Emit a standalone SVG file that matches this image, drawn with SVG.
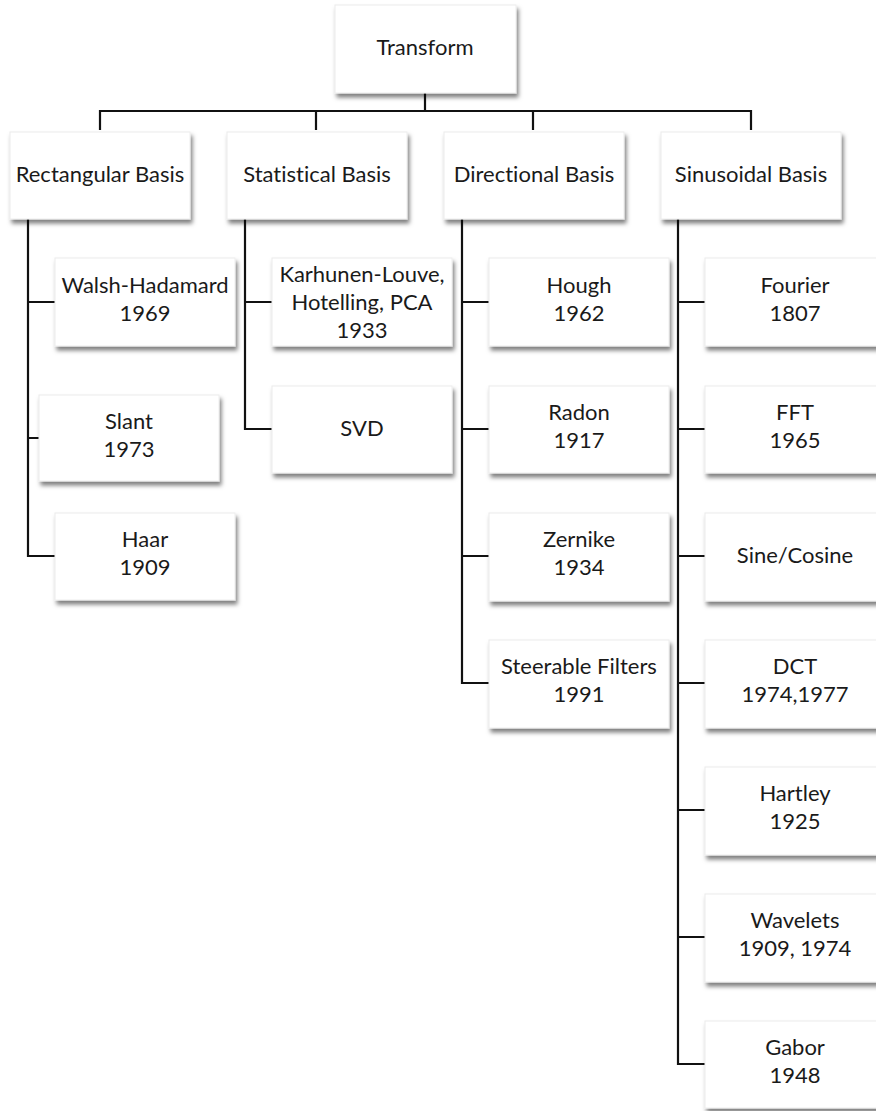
<svg xmlns="http://www.w3.org/2000/svg" width="876" height="1111" viewBox="0 0 876 1111">
<style>
.box{fill:#fff;stroke:#ececec;stroke-width:1;filter:url(#sh)}
.t{font-family:Lato,"Open Sans",sans-serif;font-size:22px;fill:#1a1a1a;text-anchor:middle;font-variant-ligatures:none;font-feature-settings:"liga" 0}
.c{fill:none;stroke:#111;stroke-width:2.2;stroke-linejoin:miter}
</style>
<defs>
<filter id="sh" x="-10%" y="-10%" width="125%" height="135%">
<feDropShadow dx="2" dy="4" stdDeviation="2.2" flood-color="#000" flood-opacity="0.5"/>
</filter>
</defs>
<g id="connectors">
<path class="c" d="M425 93V111M100 130V111H751V130M316 111V130M533 111V130"/>
<path class="c" d="M28 219V556H55M28 302H55M28 438H39"/>
<path class="c" d="M245 219V429H272M245 302H272"/>
<path class="c" d="M462 219V683H489M462 302H489M462 429H489M462 556H489"/>
<path class="c" d="M678 219V1064H705M678 302H705M678 429H705M678 556H705M678 683H705M678 810H705M678 937H705"/>
</g>
<g id="transform"><rect class="box" x="335" y="5" width="181" height="88"/><text class="t" x="425" y="55">Transform</text></g>
<g id="rectangular"><rect class="box" x="10" y="132" width="180" height="87"/><text class="t" x="100" y="182">Rectangular Basis</text></g>
<g id="statistical"><rect class="box" x="227" y="132" width="180" height="87"/><text class="t" x="317" y="182">Statistical Basis</text></g>
<g id="directional"><rect class="box" x="444" y="132" width="180" height="87"/><text class="t" x="534" y="182">Directional Basis</text></g>
<g id="sinusoidal"><rect class="box" x="661" y="132" width="180" height="87"/><text class="t" x="751" y="182">Sinusoidal Basis</text></g>
<g id="walsh"><rect class="box" x="55" y="258" width="180" height="88"/><text class="t" x="145" y="293">Walsh-Hadamard</text><text class="t" x="145" y="321">1969</text></g>
<g id="slant"><rect class="box" x="39" y="395" width="180" height="86"/><text class="t" x="129" y="429">Slant</text><text class="t" x="129" y="457">1973</text></g>
<g id="haar"><rect class="box" x="55" y="513" width="180" height="87"/><text class="t" x="145" y="547">Haar</text><text class="t" x="145" y="575">1909</text></g>
<g id="karhunen"><rect class="box" x="272" y="258" width="180" height="88"/><text class="t" x="362" y="282">Karhunen-Louve,</text><text class="t" x="362" y="310">Hotelling, PCA</text><text class="t" x="362" y="338">1933</text></g>
<g id="svd"><rect class="box" x="272" y="386" width="180" height="87"/><text class="t" x="362" y="436">SVD</text></g>
<g id="hough"><rect class="box" x="489" y="258" width="180" height="88"/><text class="t" x="579" y="293">Hough</text><text class="t" x="579" y="321">1962</text></g>
<g id="radon"><rect class="box" x="489" y="386" width="180" height="87"/><text class="t" x="579" y="420">Radon</text><text class="t" x="579" y="448">1917</text></g>
<g id="zernike"><rect class="box" x="489" y="513" width="180" height="88"/><text class="t" x="579" y="547">Zernike</text><text class="t" x="579" y="575">1934</text></g>
<g id="steerable"><rect class="box" x="489" y="640" width="180" height="88"/><text class="t" x="579" y="674">Steerable Filters</text><text class="t" x="579" y="702">1991</text></g>
<g id="fourier"><rect class="box" x="705" y="258" width="180" height="88"/><text class="t" x="795" y="293">Fourier</text><text class="t" x="795" y="321">1807</text></g>
<g id="fft"><rect class="box" x="705" y="386" width="180" height="87"/><text class="t" x="795" y="420">FFT</text><text class="t" x="795" y="448">1965</text></g>
<g id="sinecosine"><rect class="box" x="705" y="513" width="180" height="88"/><text class="t" x="795" y="563">Sine/Cosine</text></g>
<g id="dct"><rect class="box" x="705" y="640" width="180" height="88"/><text class="t" x="795" y="674">DCT</text><text class="t" x="795" y="702">1974,1977</text></g>
<g id="hartley"><rect class="box" x="705" y="767" width="180" height="88"/><text class="t" x="795" y="801">Hartley</text><text class="t" x="795" y="829">1925</text></g>
<g id="wavelets"><rect class="box" x="705" y="894" width="180" height="88"/><text class="t" x="795" y="928">Wavelets</text><text class="t" x="795" y="956">1909, 1974</text></g>
<g id="gabor"><rect class="box" x="705" y="1021" width="180" height="87"/><text class="t" x="795" y="1055">Gabor</text><text class="t" x="795" y="1083">1948</text></g>
</svg>
